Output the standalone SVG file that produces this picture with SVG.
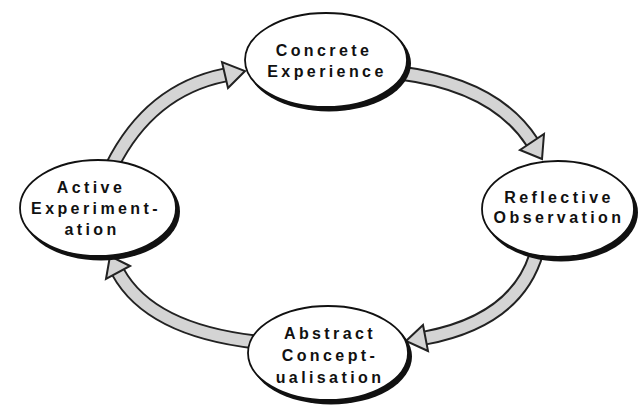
<svg xmlns="http://www.w3.org/2000/svg" width="640" height="409" viewBox="0 0 640 409">
<style>
.shaftO{fill:none;stroke:#222;stroke-width:15;stroke-linecap:butt}
.shaftI{fill:none;stroke:#d4d4d4;stroke-width:11;stroke-linecap:butt}
.head{fill:#d4d4d4;stroke:#222;stroke-width:2;stroke-linejoin:miter}
.shadow{fill:#111}
.node{fill:#fff;stroke:#111;stroke-width:1.8}
.lbl{font-family:"Liberation Sans",Arial,sans-serif;font-weight:bold;font-size:16px;letter-spacing:3.4px;fill:#111;text-anchor:middle}
</style>
<rect width="640" height="409" fill="#fff"/>
<g id="connectors">
  <g id="arrow1">
    <path class="shaftO" d="M400,73 Q495,85 532,142"/>
    <path class="shaftI" d="M400,73 Q495,85 532,142"/>
    <polygon class="head" points="544,134 542,159 520,150"/>
  </g>
  <g id="arrow2">
    <path class="shaftO" d="M538,248 Q520,320 425,338"/>
    <path class="shaftI" d="M538,248 Q520,320 425,338"/>
    <polygon class="head" points="428,351 406,341 423,325"/>
  </g>
  <g id="arrow3">
    <path class="shaftO" d="M256,342 Q150,330 118,272"/>
    <path class="shaftI" d="M256,342 Q150,330 118,272"/>
    <polygon class="head" points="130,266 110,256 106,279"/>
  </g>
  <g id="arrow4">
    <path class="shaftO" d="M112,166 Q150,90 225,75"/>
    <path class="shaftI" d="M112,166 Q150,90 225,75"/>
    <polygon class="head" points="228,88 245,71 222,62"/>
  </g>
</g>
<g id="concrete">
  <ellipse class="shadow" cx="329" cy="63.5" rx="82" ry="48"/>
  <ellipse class="node" cx="326" cy="60" rx="81" ry="47"/>
  <text class="lbl" x="324" y="56">Concrete</text>
  <text class="lbl" x="327" y="77">Experience</text>
</g>
<g id="reflective">
  <ellipse class="shadow" cx="561" cy="212.5" rx="77" ry="49"/>
  <ellipse class="node" cx="558" cy="209" rx="76" ry="48"/>
  <text class="lbl" x="559" y="203">Reflective</text>
  <text class="lbl" x="559" y="223">Observation</text>
</g>
<g id="abstract">
  <ellipse class="shadow" cx="331" cy="356.5" rx="81" ry="48"/>
  <ellipse class="node" cx="328" cy="353" rx="80" ry="47"/>
  <text class="lbl" x="330" y="339">Abstract</text>
  <text class="lbl" x="330" y="361">Concept-</text>
  <text class="lbl" x="330" y="383">ualisation</text>
</g>
<g id="active">
  <ellipse class="shadow" cx="101" cy="211.5" rx="79" ry="49"/>
  <ellipse class="node" cx="98" cy="208" rx="78" ry="48"/>
  <text class="lbl" x="91" y="193">Active</text>
  <text class="lbl" x="96" y="214">Experiment-</text>
  <text class="lbl" x="92" y="235">ation</text>
</g>
</svg>
